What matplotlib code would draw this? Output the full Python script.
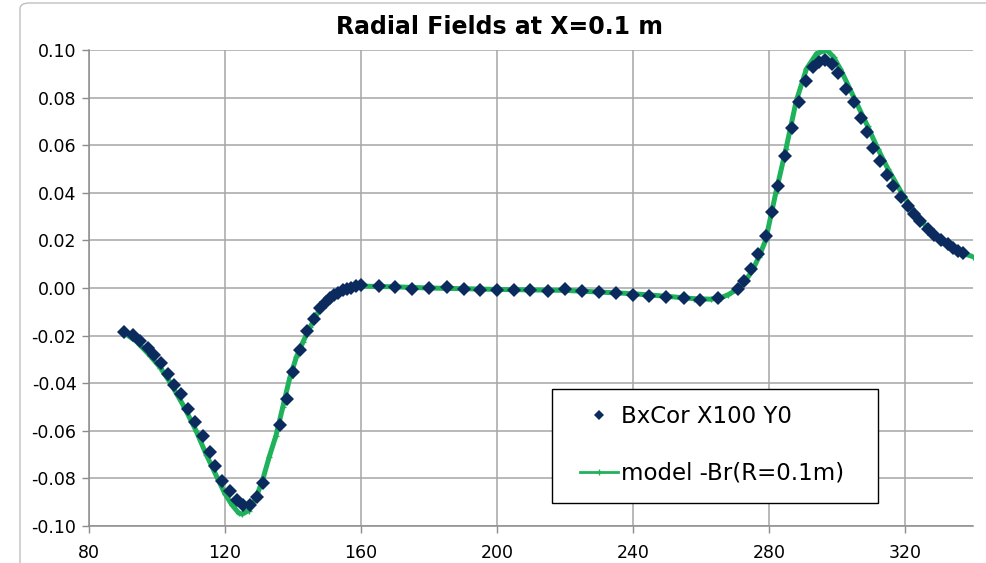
import matplotlib
matplotlib.use('Agg')
import matplotlib.pyplot as plt
from matplotlib.lines import Line2D
from matplotlib.patches import FancyBboxPatch, Rectangle
from matplotlib.ticker import FuncFormatter, MultipleLocator

# measured Bx (corrected, X=100 mm, Y=0), scaled
meas_x = [90.4, 92.9, 95.1, 97.3, 99.2, 101.2, 103.1, 105.1, 107.1, 109.2,
          111.1, 113.4, 115.6, 117.1, 119.0, 121.5, 123.4, 125.4, 127.4, 129.4,
          131.1, 136.3, 138.1, 139.9, 142.1, 144.1, 146.1, 148.0, 149.7, 151.0,
          152.1, 153.3, 154.6, 155.9, 157.1, 158.5, 160.0,
          165.2, 170.1, 175.0, 179.9, 185.2, 190.2, 195.1, 200.0, 204.9, 209.8,
          214.9, 220.1, 225.0, 230.1, 235.0, 239.9, 244.8, 249.7, 254.9, 259.8,
          264.9,
          270.8, 272.7, 274.7, 276.9, 279.1, 280.9, 282.7, 284.8, 286.8, 288.9,
          290.9, 292.9, 294.8, 296.5, 298.4, 300.2, 302.6, 304.9, 307.1, 308.8,
          310.5, 312.6, 314.7, 316.6, 318.8, 320.8, 322.7, 324.4, 326.7, 328.6,
          330.6, 332.6, 334.0, 335.5, 337.0]
meas_y = [-0.0186, -0.0198, -0.0224, -0.0252, -0.0280, -0.0315, -0.0362, -0.0406, -0.0446, -0.0508,
          -0.0563, -0.0622, -0.0688, -0.0748, -0.0810, -0.0854, -0.0892, -0.0911, -0.0913, -0.0878,
          -0.0819, -0.0575, -0.0465, -0.0353, -0.0262, -0.0181, -0.0130, -0.0083, -0.0058, -0.0041,
          -0.0030, -0.0020, -0.0010, -0.0005, 0.0001, 0.0008, 0.0011,
          0.0008, 0.0004, -0.0003, -0.0001, 0.0005, -0.0004, -0.0008, -0.0008, -0.0008, -0.0008,
          -0.0013, -0.0005, -0.0013, -0.0017, -0.0020, -0.0030, -0.0034, -0.0038, -0.0043, -0.0051,
          -0.0043,
          -0.0005, 0.0030, 0.0079, 0.0142, 0.0219, 0.0321, 0.0430, 0.0553, 0.0674, 0.0782,
          0.0870, 0.0930, 0.0951, 0.0958, 0.0940, 0.0902, 0.0838, 0.0782, 0.0716, 0.0655,
          0.0589, 0.0533, 0.0476, 0.0427, 0.0384, 0.0346, 0.0311, 0.0280, 0.0248, 0.0224,
          0.0203, 0.0185, 0.0170, 0.0156, 0.0145]

# model -Br at R = 0.1 m
model_x = [90, 94, 98, 101, 104, 108, 111.5, 114.5, 117.8, 120, 122, 124, 125,
           127, 129, 131, 133, 135, 137, 139, 141, 143, 145, 148, 150, 153, 156,
           160, 170, 180, 200, 220, 240, 250, 258, 263, 266, 268, 271, 273, 275,
           277, 279, 282, 285, 288, 291, 294, 297, 299, 301, 305, 309, 312, 315,
           319, 322, 325, 329, 333, 337, 340]
model_y = [-0.0185, -0.0225, -0.0285, -0.0335, -0.0400, -0.0500, -0.0600, -0.0700, -0.0800, -0.0865, -0.0910, -0.0945, -0.0950,
           -0.0935, -0.0885, -0.0810, -0.0710, -0.0620, -0.0500, -0.0380, -0.0290, -0.0225, -0.0165, -0.0085, -0.0055, -0.0022, -0.0004,
           0.0008, 0.0005, 0.0000, -0.0006, -0.0010, -0.0024, -0.0035, -0.0045, -0.0047, -0.0040, -0.0028, -0.0003, 0.0030, 0.0070,
           0.0130, 0.0200, 0.0400, 0.0585, 0.0785, 0.0920, 0.0985, 0.1000, 0.0970, 0.0920, 0.0800, 0.0680, 0.0585, 0.0500,
           0.0400, 0.0335, 0.0280, 0.0210, 0.0172, 0.0145, 0.0132]

x_ticks = [80, 120, 160, 200, 240, 280, 320]

NAVY = '#0b2a5e'
GREEN = '#1fb25a'
GRID = '#a6a6a6'

W, H = 986, 563

plt.rcParams['font.family'] = ['DejaVu Sans']

fig = plt.figure(figsize=(W / 100, H / 100), dpi=100)
ax = fig.add_axes([89 / W, 1 - 526 / H, (973 - 89) / W, (526 - 50) / H])

ax.plot(model_x, model_y, '-', color=GREEN, lw=3.6, marker='+', ms=4, mew=1, zorder=3)
ax.plot(meas_x, meas_y, 'D', color=NAVY, ms=6.8, mew=0, zorder=4)

ax.set_xlim(80, 340)
ax.set_ylim(-0.10, 0.10)
ax.set_xticks(x_ticks)
ax.yaxis.set_major_locator(MultipleLocator(0.02))


def fmt_y(v, _):
    if abs(v) < 1e-9:
        return '0.00'
    return f'{v:.2f}'


ax.yaxis.set_major_formatter(FuncFormatter(fmt_y))
ax.grid(True, color=GRID, lw=1.1)
ax.set_axisbelow(True)

for side in ('top', 'right'):
    ax.spines[side].set_visible(False)
for side in ('left', 'bottom'):
    ax.spines[side].set_color('#8c8c8c')
    ax.spines[side].set_linewidth(1.1)
ax.tick_params(axis='both', direction='out', length=5, width=1, color='#8c8c8c',
               labelsize=12.5, labelcolor='black')
ax.tick_params(axis='y', pad=4)
ax.tick_params(axis='x', pad=8)

fig.text(0.507, 1 - 27 / H, 'Radial Fields at X=0.1 m', ha='center', va='center',
         fontsize=17, fontweight='bold')

# legend: frame drawn separately so the padding can differ per side
fig.patches.append(Rectangle((552 / W, 1 - 503 / H), (878 - 552) / W, (503 - 389) / H,
                             transform=fig.transFigure, facecolor='white',
                             edgecolor='black', lw=1.0, zorder=5))
handles = [
    Line2D([], [], ls='none', marker='D', color=NAVY, ms=5.5, mew=0),
    Line2D([], [], ls='-', color=GREEN, lw=2, marker='+', ms=5, mew=1),
]
labels = ['BxCor X100 Y0', 'model -Br(R=0.1m)']
leg = fig.legend(handles, labels, loc='upper left',
                 bbox_to_anchor=(580 / W, 1 - 405 / H),
                 fontsize=16.5, frameon=False,
                 handlelength=1.65, handletextpad=0.15, labelspacing=1.48,
                 borderpad=0, borderaxespad=0)
leg.set_zorder(6)

# outer chart border
fig.patches.append(FancyBboxPatch((20 / W, -0.05), 1.0, 1.05 - 3 / H,
                                  boxstyle='round,pad=0,rounding_size=0.01',
                                  transform=fig.transFigure, fill=False,
                                  edgecolor='#bfbfbf', lw=1.0))

fig.savefig('out.png', dpi=100)
